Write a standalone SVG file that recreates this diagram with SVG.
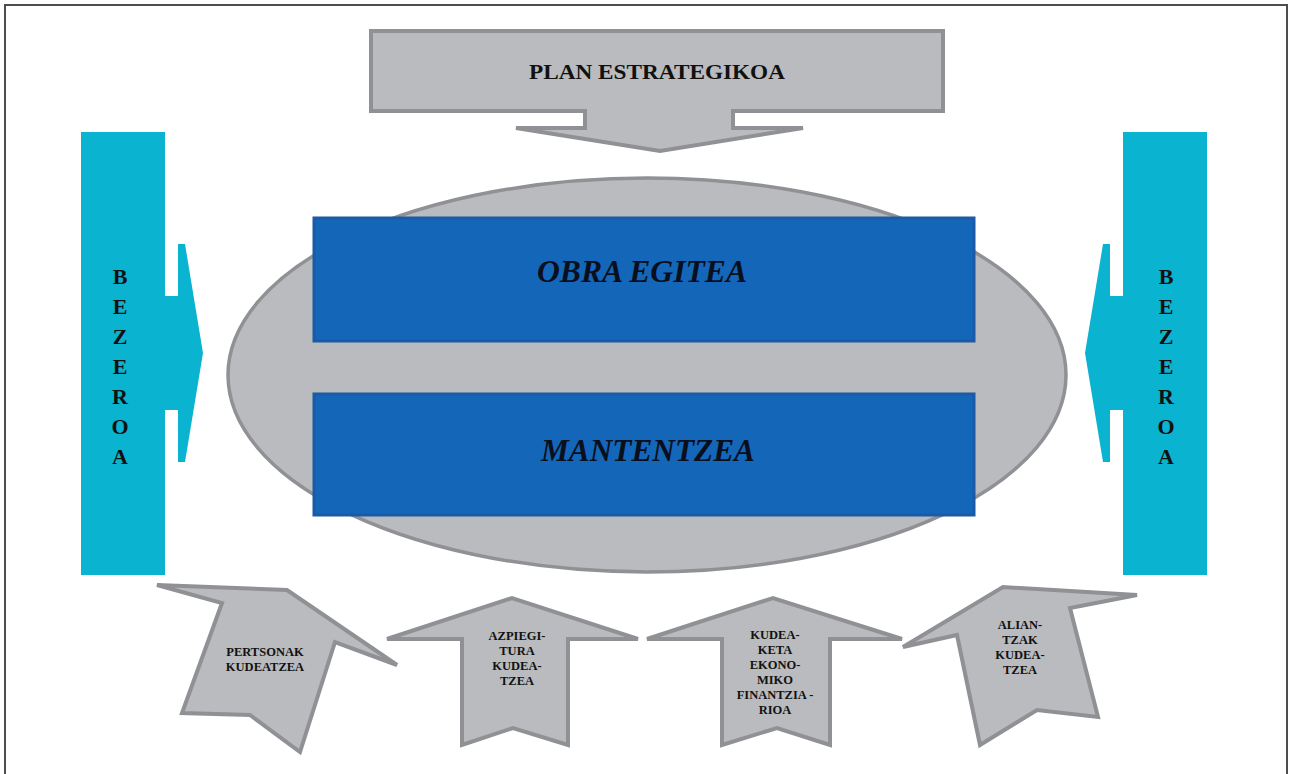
<svg xmlns="http://www.w3.org/2000/svg" width="1289" height="774" viewBox="0 0 1289 774">
<style>
.gray{fill:#b9bbbe;stroke:#8f9194;stroke-width:4;stroke-linejoin:miter}
.cyan{fill:#0ab3d0;stroke:none}
.blue{fill:#1467b8;stroke:#1a5aa6;stroke-width:3}
.lbl{font-family:"Liberation Serif","Times New Roman",serif;font-weight:bold;fill:#111;text-anchor:middle}
.big{font-family:"Liberation Serif","Times New Roman",serif;font-weight:bold;font-style:italic;fill:#0a0f1e;text-anchor:middle;font-size:31px}
.sm{font-size:12.5px}
.vert{font-size:22px}
</style>
<rect x="0" y="0" width="1289" height="774" fill="#ffffff"/>
<path d="M5,774 V5 H1287 V774" fill="none" stroke="#4d4d4d" stroke-width="2"/>

<g id="plan">
<polygon class="gray" points="371,31 943,31 943,111 733,111 733,128 803,128 660,151 516,128 585,128 585,111 371,111"/>
<text class="lbl" x="657" y="79" font-size="22" textLength="256" lengthAdjust="spacingAndGlyphs">PLAN ESTRATEGIKOA</text>
</g>

<g id="core">
<ellipse cx="647" cy="375" rx="419" ry="197" fill="#b9bbbe" stroke="#8f9194" stroke-width="3.5"/>
</g>

<g id="obra">
<rect class="blue" x="314" y="218" width="660" height="123"/>
<text class="big" x="642" y="282" textLength="210" lengthAdjust="spacingAndGlyphs">OBRA EGITEA</text>
</g>

<g id="mantentzea">
<rect class="blue" x="314" y="394" width="660" height="121"/>
<text class="big" x="648" y="461" textLength="214" lengthAdjust="spacingAndGlyphs">MANTENTZEA</text>
</g>

<g id="bezeroa-left">
<path class="cyan" d="M81,132 H165 V296 H178 V244 H185 L203,353 L185,462 H178 V410 H165 V575 H81 Z"/>
<text class="lbl vert" x="120"><tspan x="120" y="284">B</tspan><tspan x="120" y="314">E</tspan><tspan x="120" y="344">Z</tspan><tspan x="120" y="374">E</tspan><tspan x="120" y="404">R</tspan><tspan x="120" y="434">O</tspan><tspan x="120" y="464">A</tspan></text>
</g>

<g id="bezeroa-right">
<path class="cyan" d="M1207,132 H1123 V296 H1110 V244 H1103 L1085,353 L1103,462 H1110 V410 H1123 V575 H1207 Z"/>
<text class="lbl vert" x="1166"><tspan x="1166" y="284">B</tspan><tspan x="1166" y="314">E</tspan><tspan x="1166" y="344">Z</tspan><tspan x="1166" y="374">E</tspan><tspan x="1166" y="404">R</tspan><tspan x="1166" y="434">O</tspan><tspan x="1166" y="464">A</tspan></text>
</g>

<g id="pertsonak">
<polygon class="gray" points="157,585 287,590 397,665 335,642 300,752 250,715 182,713 222,603"/>
<text class="lbl sm"><tspan x="265" y="656">PERTSONAK</tspan><tspan x="265" y="671">KUDEATZEA</tspan></text>
</g>

<g id="azpiegitura">
<polygon class="gray" points="387,639 512,598 638,639 568,639 568,745 513,728 462,745 462,639"/>
<text class="lbl sm"><tspan x="517" y="640">AZPIEGI-</tspan><tspan x="517" y="655">TURA</tspan><tspan x="517" y="670">KUDEA-</tspan><tspan x="517" y="685">TZEA</tspan></text>
</g>

<g id="kudeaketa">
<polygon class="gray" points="647,639 773,598 902,639 830,639 830,745 777,728 722,745 722,639"/>
<text class="lbl sm"><tspan x="775" y="639">KUDEA-</tspan><tspan x="775" y="654">KETA</tspan><tspan x="775" y="669">EKONO-</tspan><tspan x="775" y="684">MIKO</tspan><tspan x="775" y="699">FINANTZIA -</tspan><tspan x="775" y="714">RIOA</tspan></text>
</g>

<g id="aliantzak">
<polygon class="gray" points="903,647 1003,587 1137,595 1070,608 1098,717 1037,710 980,745 957,635"/>
<text class="lbl sm"><tspan x="1020" y="629">ALIAN-</tspan><tspan x="1020" y="644">TZAK</tspan><tspan x="1020" y="659">KUDEA-</tspan><tspan x="1020" y="674">TZEA</tspan></text>
</g>

<g id="connectors"></g>
</svg>
